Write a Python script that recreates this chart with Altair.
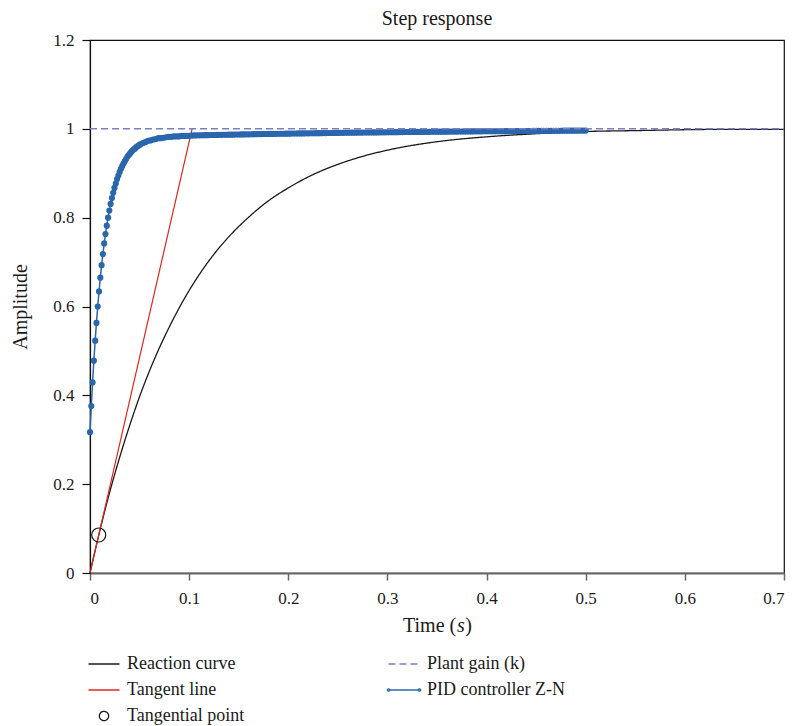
import altair as alt
import pandas as pd

FONT = "Liberation Serif"

series = ["Reaction curve", "Tangent line", "Tangential point", "Plant gain (k)", "PID controller Z-N"]
colors = ["#1a1a1a", "#e3261f", "#1a1a1a", "#7b7fc6", "#2a66ac"]
dashes = [[1, 0], [1, 0], [1, 0], [7, 4], [1, 0]]
LINE = "M-2,0H2"
DOT = "a0.15,0.15 0 1,0 0.3,0a0.15,0.15 0 1,0 -0.3,0"
shapes = [LINE, LINE,
          "M-0.6,0a0.6,0.6 0 1,0 1.2,0a0.6,0.6 0 1,0 -1.2,0",
          LINE,
          "M-2,0H2M-2.15,0" + DOT + "M1.85,0" + DOT]

x_title_parts = ["Time (", "s", ")"]
x_title_styles = ["normal", "italic", "normal"]

reaction_t = [0, 0.005, 0.01, 0.02, 0.03, 0.04, 0.05, 0.06, 0.07, 0.08, 0.09, 0.1,
              0.12, 0.14, 0.16, 0.18, 0.2, 0.225, 0.25, 0.275, 0.3, 0.35, 0.4, 0.45,
              0.5, 0.55, 0.6, 0.65, 0.7]
reaction_y = [0, 0.049, 0.096, 0.183, 0.261, 0.332, 0.397, 0.455, 0.507, 0.554, 0.597, 0.636,
              0.703, 0.757, 0.801, 0.838, 0.867, 0.897, 0.920, 0.938, 0.952, 0.971, 0.982, 0.989,
              0.994, 0.996, 0.998, 0.999, 0.999]

tangent_t = [0.0, 0.103]
tangent_y = [0.0, 1.0]

gain_t = [0.0, 0.7]
gain_y = [1.0, 1.0]

pid_t = [0, 0.0013, 0.0026, 0.0039, 0.0052, 0.0065, 0.0078, 0.0091, 0.0104, 0.0117,
         0.013, 0.0143, 0.0156, 0.0169, 0.0182, 0.0195, 0.0208, 0.0221, 0.0234, 0.0247,
         0.026, 0.0273, 0.0286, 0.0299, 0.0312, 0.0325, 0.0338, 0.0351, 0.0364, 0.0377,
         0.0390, 0.0403, 0.0416, 0.0429, 0.0442, 0.0455, 0.0468, 0.0481, 0.0494, 0.0507,
         0.0533, 0.0559, 0.0585, 0.0611, 0.0637,
         0.0663, 0.0689, 0.0715, 0.0741, 0.0767, 0.0793, 0.0819, 0.0845, 0.0871, 0.0897,
         0.0923, 0.0949, 0.0975, 0.1,
         0.1025, 0.105, 0.1075, 0.11, 0.1125, 0.115, 0.1175, 0.12, 0.1225, 0.125,
         0.1275, 0.13, 0.1325, 0.135, 0.1375, 0.14, 0.1425, 0.145, 0.1475, 0.15,
         0.1525, 0.155, 0.1575, 0.16, 0.1625, 0.165, 0.1675, 0.17, 0.1725, 0.175,
         0.1775, 0.18, 0.1825, 0.185, 0.1875, 0.19, 0.1925, 0.195, 0.1975, 0.2,
         0.2025, 0.205, 0.2075, 0.21, 0.2125, 0.215, 0.2175, 0.22, 0.2225, 0.225,
         0.2275, 0.23, 0.2325, 0.235, 0.2375, 0.24, 0.2425, 0.245, 0.2475, 0.25,
         0.2525, 0.255, 0.2575, 0.26, 0.2625, 0.265, 0.2675, 0.27, 0.2725, 0.275,
         0.2775, 0.28, 0.2825, 0.285, 0.2875, 0.29, 0.2925, 0.295, 0.2975, 0.3,
         0.3025, 0.305, 0.3075, 0.31, 0.3125, 0.315, 0.3175, 0.32, 0.3225, 0.325,
         0.3275, 0.33, 0.3325, 0.335, 0.3375, 0.34, 0.3425, 0.345, 0.3475, 0.35,
         0.3525, 0.355, 0.3575, 0.36, 0.3625, 0.365, 0.3675, 0.37, 0.3725, 0.375,
         0.3775, 0.38, 0.3825, 0.385, 0.3875, 0.39, 0.3925, 0.395, 0.3975, 0.4,
         0.4025, 0.405, 0.4075, 0.41, 0.4125, 0.415, 0.4175, 0.42, 0.4225, 0.425,
         0.4275, 0.43, 0.4325, 0.435, 0.4375, 0.44, 0.4425, 0.445, 0.4475, 0.45,
         0.4525, 0.455, 0.4575, 0.46, 0.4625, 0.465, 0.4675, 0.47, 0.4725, 0.475,
         0.4775, 0.48, 0.4825, 0.485, 0.4875, 0.49, 0.4925, 0.495, 0.4975, 0.5]
pid_y = [0.317, 0.376, 0.429, 0.478, 0.523, 0.563, 0.600, 0.634, 0.665, 0.693,
         0.718, 0.742, 0.763, 0.782, 0.800, 0.816, 0.831, 0.844, 0.856, 0.867,
         0.877, 0.887, 0.895, 0.903, 0.910, 0.916, 0.922, 0.927, 0.932, 0.937,
         0.941, 0.944, 0.948, 0.951, 0.954, 0.956, 0.959, 0.961, 0.963, 0.965,
         0.968, 0.970, 0.973, 0.974, 0.976,
         0.977, 0.979, 0.979, 0.980, 0.981, 0.982, 0.982, 0.983, 0.983, 0.983,
         0.984, 0.984, 0.984, 0.9844,
         0.9848, 0.9852, 0.9853, 0.9854, 0.9856, 0.9857, 0.9858, 0.9859, 0.9861, 0.9862,
         0.9863, 0.9864, 0.9865, 0.9866, 0.9867, 0.9868, 0.9869, 0.9870, 0.9872, 0.9873,
         0.9874, 0.9875, 0.9876, 0.9877, 0.9878, 0.9879, 0.9880, 0.9881, 0.9882, 0.9883,
         0.9884, 0.9885, 0.9886, 0.9887, 0.9888, 0.9889, 0.9890, 0.9890, 0.9891, 0.9892,
         0.9893, 0.9894, 0.9895, 0.9896, 0.9897, 0.9897, 0.9898, 0.9899, 0.9900, 0.9901,
         0.9902, 0.9902, 0.9903, 0.9904, 0.9905, 0.9906, 0.9907, 0.9907, 0.9908, 0.9909,
         0.9910, 0.9910, 0.9911, 0.9912, 0.9913, 0.9913, 0.9914, 0.9915, 0.9916, 0.9916,
         0.9917, 0.9917, 0.9918, 0.9919, 0.9920, 0.9920, 0.9921, 0.9921, 0.9922, 0.9923,
         0.9924, 0.9924, 0.9925, 0.9925, 0.9926, 0.9927, 0.9928, 0.9928, 0.9929, 0.9929,
         0.9930, 0.9930, 0.9931, 0.9931, 0.9932, 0.9932, 0.9933, 0.9934, 0.9935, 0.9935,
         0.9936, 0.9936, 0.9937, 0.9937, 0.9938, 0.9938, 0.9939, 0.9939, 0.9940, 0.9940,
         0.9941, 0.9941, 0.9942, 0.9942, 0.9943, 0.9943, 0.9944, 0.9944, 0.9945, 0.9945,
         0.9946, 0.9946, 0.9946, 0.9946, 0.9947, 0.9947, 0.9948, 0.9948, 0.9949, 0.9949,
         0.9950, 0.9950, 0.9951, 0.9951, 0.9952, 0.9952, 0.9952, 0.9952, 0.9953, 0.9953,
         0.9954, 0.9954, 0.9955, 0.9955, 0.9955, 0.9955, 0.9956, 0.9956, 0.9957, 0.9957,
         0.9958, 0.9958, 0.9958, 0.9958, 0.9959, 0.9959, 0.9960, 0.9960, 0.9960, 0.9960]

tp_t = [0.0088]
tp_y = [0.0856]


def frame(t, y, name):
    return pd.DataFrame({"t": t, "y": y, "series": name})


df_reaction = frame(reaction_t, reaction_y, "Reaction curve")
df_tangent = frame(tangent_t, tangent_y, "Tangent line")
df_tp = frame(tp_t, tp_y, "Tangential point")
df_gain = frame(gain_t, gain_y, "Plant gain (k)")
df_pid = frame(pid_t, pid_y, "PID controller Z-N")

legend = alt.Legend(
    title=None, orient="none", legendX=5, legendY=615, columns=2,
    columnPadding=139, rowPadding=8, padding=0,
    symbolSize=240, symbolStrokeWidth=1.3, symbolFillColor="transparent",
    labelFont=FONT, labelFontSize=18, labelColor="#1a1a1a", labelOffset=14,
    labelLimit=300,
)

x = alt.X("t:Q", scale=alt.Scale(domain=[0, 0.7], nice=False),
          axis=alt.Axis(values=[0, 0.1, 0.2, 0.3, 0.4, 0.5, 0.6, 0.7], format="~g",
                        title=None, domainColor="#666666", domainWidth=2,
                        tickColor="#666666", tickWidth=1.5, tickSize=7, labelPadding=10))
y = alt.Y("y:Q", scale=alt.Scale(domain=[0, 1.2], nice=False),
          axis=alt.Axis(values=[0, 0.2, 0.4, 0.6, 0.8, 1.0, 1.2], format="~g",
                        title="Amplitude", domainColor="#111111", domainWidth=1.2,
                        tickColor="#111111", tickWidth=1.2, tickSize=8, labelPadding=8,
                        titlePadding=22))
color = alt.Color("series:N", scale=alt.Scale(domain=series, range=colors), legend=legend)
dash = alt.StrokeDash("series:N", scale=alt.Scale(domain=series, range=dashes), legend=legend)
shape = alt.Shape("series:N", scale=alt.Scale(domain=series, range=shapes), legend=legend)

reaction = alt.Chart(df_reaction).mark_line(strokeWidth=1.3, interpolate="monotone").encode(
    x=x, y=y, color=color, strokeDash=dash)
tangent = alt.Chart(df_tangent).mark_line(strokeWidth=1.2).encode(x=x, y=y, color=color, strokeDash=dash)
pid_line = alt.Chart(df_pid).mark_line(strokeWidth=1.5).encode(x=x, y=y, color=color, strokeDash=dash)
pid_pts = alt.Chart(df_pid).mark_point(filled=True, size=38, opacity=1, color="#2a66ac").encode(x=x, y=y)
gain = alt.Chart(df_gain).mark_line(strokeWidth=1.5).encode(x=x, y=y, color=color, strokeDash=dash)
tp = alt.Chart(df_tp).mark_point(size=544, strokeWidth=1.2, opacity=1, filled=False).encode(
    x=x, y=y, color=color, shape=shape)

# x-axis title "Time (s)" with an italic s, laid out as three text pieces
title_x = [313.0, 367.0, 375.2]
title_layers = []
for part, style, px in zip(x_title_parts, x_title_styles, title_x):
    title_layers.append(
        alt.Chart(alt.Data(values=[{}])).mark_text(
            font=FONT, fontSize=20, fontStyle=style, color="#1a1a1a",
            align="left", baseline="alphabetic",
        ).encode(x=alt.value(px), y=alt.value(592), text=alt.value(part))
    )

chart = alt.layer(reaction, tangent, pid_line, pid_pts, gain, tp, *title_layers).properties(
    width=694, height=533,
    title=alt.Title("Step response", font=FONT, fontSize=20, fontWeight="normal",
                    color="#1a1a1a", offset=2, anchor="middle"),
    padding={"left": 90, "top": 40, "right": 14, "bottom": 153},
    autosize=alt.AutoSizeParams(type="none"),
).configure_view(stroke="#111111", strokeWidth=1.2).configure_axis(
    labelFont=FONT, labelFontSize=17, labelColor="#1a1a1a",
    titleFont=FONT, titleFontSize=20, titleFontWeight="normal", titleColor="#1a1a1a",
    grid=False,
)

chart.save("out.html", embed_options={"renderer": "svg", "actions": False})
